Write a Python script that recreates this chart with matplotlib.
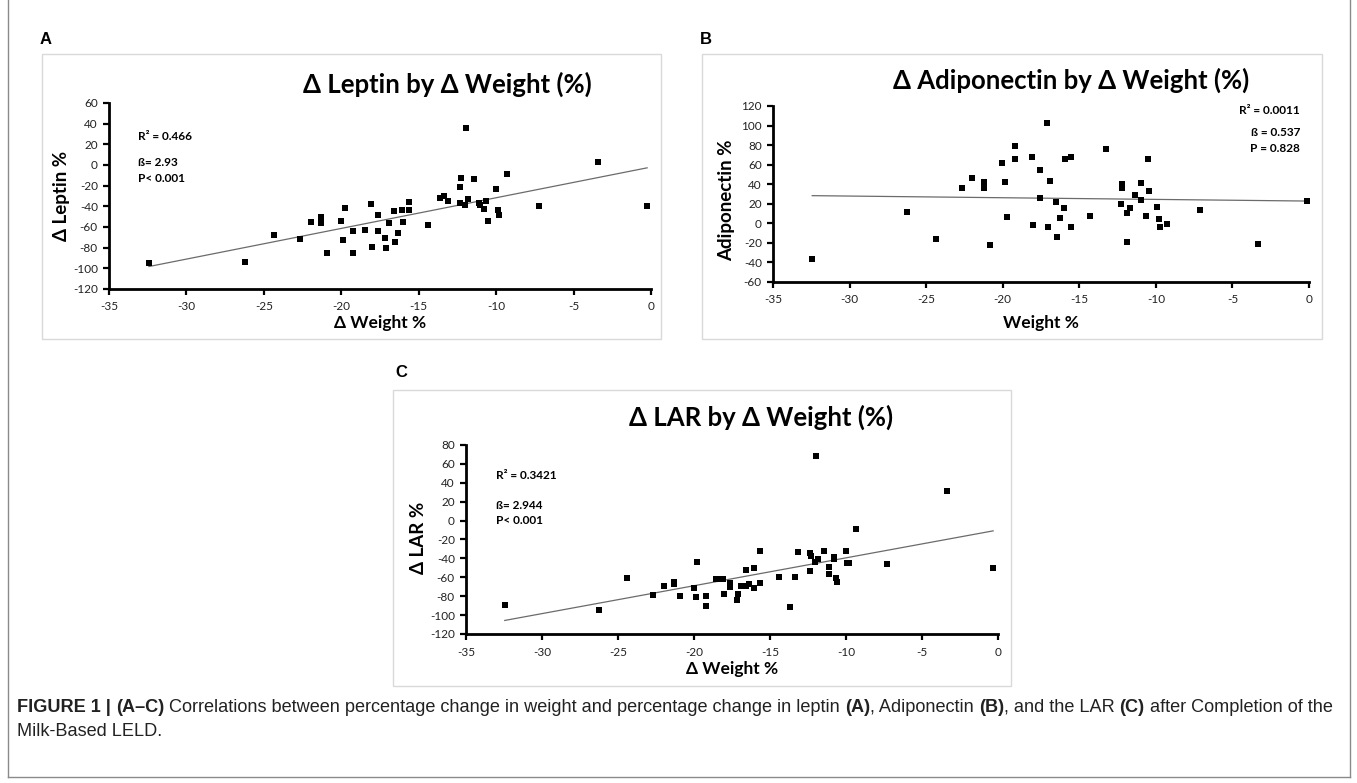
import matplotlib
matplotlib.use("Agg")
import matplotlib.pyplot as plt
import numpy as np
from matplotlib.patches import Rectangle
from matplotlib.lines import Line2D

plt.rcParams["axes.unicode_minus"] = False

# ---------------- data ----------------
weight_a = [-32.42, -26.23, -24.37, -22.67, -21.98, -21.28, -21.28, -20.91, -20.03, -19.77,
            -19.89, -19.22, -19.24, -18.47, -18.10, -18.03, -17.61, -17.64, -17.15, -17.10,
            -16.94, -16.59, -16.50, -16.34, -16.06, -16.01, -15.62, -15.62, -14.43, -13.64,
            -13.34, -13.13, -12.32, -12.25, -12.32, -11.97, -12.02, -11.83, -11.42, -11.11,
            -11.02, -10.77, -10.67, -10.53, -9.98, -9.91, -9.80, -9.33, -7.26, -3.40, -0.25]
leptin = [-94.5, -93.8, -67.8, -71.7, -55.5, -50.0, -56.5, -84.7, -54.2, -41.2,
          -72.4, -63.6, -85.0, -63.3, -37.3, -78.9, -48.4, -64.3, -70.8, -79.9,
          -56.2, -44.1, -74.7, -65.9, -43.8, -54.9, -35.7, -43.2, -57.8, -31.8,
          -29.9, -34.4, -21.7, -13.0, -36.7, 35.7, -38.3, -33.1, -14.0, -36.7,
          -39.0, -42.2, -34.4, -54.5, -23.0, -43.8, -48.0, -9.1, -39.6, 3.0, -40.0]

weight_b = [-32.44, -26.24, -24.38, -22.66, -22.00, -21.24, -21.24, -20.86, -20.02, -19.86,
            -19.74, -19.19, -19.21, -18.09, -17.99, -17.56, -17.56, -17.08, -17.03, -16.89,
            -16.51, -16.46, -16.29, -16.00, -15.93, -15.55, -15.55, -14.33, -13.25, -12.25,
            -12.20, -12.20, -11.91, -11.87, -11.72, -11.34, -10.98, -10.98, -10.67, -10.50,
            -10.43, -9.90, -9.78, -9.71, -9.26, -7.15, -3.30, -0.14]
adiponectin = [-36.3, 11.7, -16.5, 36.0, 46.3, 41.8, 35.7, -22.3, 61.7, 42.5,
               6.2, 79.2, 65.8, 67.5, -1.4, 54.5, 25.7, 102.5, -3.4, 43.5,
               21.6, -13.7, 5.1, 15.4, 65.8, 68.2, -3.8, 7.2, 76.4, 19.9,
               39.8, 35.7, 11.0, -19.2, 15.4, 28.5, 41.5, 24.3, 7.2, 66.2,
               32.6, 16.8, 4.1, -3.4, -0.3, 14.1, -21.3, 23.0]

weight_c = [-32.45, -26.25, -24.38, -22.67, -21.97, -21.29, -21.29, -20.93, -20.03, -19.79,
            -19.90, -19.24, -19.24, -18.52, -18.27, -18.08, -18.03, -17.62, -17.62, -17.14,
            -17.10, -16.93, -16.59, -16.58, -16.38, -16.08, -16.03, -15.64, -15.64, -14.43,
            -13.69, -13.35, -13.13, -12.38, -12.30, -12.34, -12.05, -11.97, -11.81, -11.42,
            -11.09, -11.09, -10.76, -10.76, -10.63, -10.56, -10.01, -9.95, -9.81, -9.37,
            -7.31, -3.35, -0.32]
lar = [-89.7, -94.4, -60.5, -78.4, -68.9, -64.5, -67.5, -79.3, -71.2, -44.3,
       -80.7, -79.3, -90.2, -61.9, -61.9, -61.9, -77.5, -65.7, -70.0, -84.4,
       -78.2, -69.0, -68.9, -52.7, -66.6, -50.4, -71.8, -65.8, -32.0, -60.0,
       -91.0, -59.8, -33.7, -34.4, -37.3, -53.1, -43.9, 68.2, -40.4, -32.0,
       -48.9, -56.9, -38.0, -40.8, -60.5, -65.4, -32.3, -45.3, -45.3, -8.8,
       -45.7, 31.6, -50.6]

x_ticks = [-35, -30, -25, -20, -15, -10, -5, 0]
y_ticks_a = [-120, -100, -80, -60, -40, -20, 0, 20, 40, 60]
y_ticks_b = [-60, -40, -20, 0, 20, 40, 60, 80, 100, 120]
y_ticks_c = [-120, -100, -80, -60, -40, -20, 0, 20, 40, 60, 80]

titles = ["\u0394 Leptin by \u0394 Weight (%)", "\u0394 Adiponectin by \u0394 Weight (%)",
          "\u0394 LAR by \u0394 Weight (%)"]
ylabels = ["\u0394 Leptin %", "Adiponectin %", "\u0394 LAR %"]
xlabels = ["\u0394 Weight %", "Weight %", "\u0394 Weight %"]
stats = [["R\u00b2 = 0.466", "\u00df= 2.93", "P< 0.001"],
         ["R\u00b2 = 0.0011", "\u00df = 0.537", "P = 0.828"],
         ["R\u00b2 = 0.3421", "\u00df= 2.944", "P< 0.001"]]

# ---------------- layout helpers (pixel coords, y down) ----------------
W, H = 1357, 783
fig = plt.figure(figsize=(W / 100, H / 100), dpi=100)
fig.patch.set_facecolor("white")

CH = ["Lato", "Open Sans", "DejaVu Sans"]
CAP = ["Liberation Sans", "DejaVu Sans"]


def ax_at(x0, y0, x1, y1):
    return fig.add_axes([x0 / W, 1 - y1 / H, (x1 - x0) / W, (y1 - y0) / H])


def ftext(x, y, s, **kw):
    return fig.text(x / W, 1 - y / H, s, **kw)


def box(x0, y0, x1, y1, color, lw):
    fig.add_artist(Rectangle((x0 / W, 1 - y1 / H), (x1 - x0) / W, (y1 - y0) / H,
                             transform=fig.transFigure, fill=False,
                             edgecolor=color, linewidth=lw))


def panel(axbox, x, y, ylim, yticks):
    ax = ax_at(*axbox)
    ax.patch.set_alpha(0)
    ax.scatter(x, y, marker="s", s=24, color="black", linewidths=0, zorder=3)
    k, b = np.polyfit(x, y, 1)
    xx = np.array([min(x), max(x)])
    ax.plot(xx, k * xx + b, color="#6b6b6b", lw=0.9, zorder=2)
    ax.set_xlim(-35, 0)
    ax.set_ylim(*ylim)
    ax.set_xticks(x_ticks)
    ax.set_yticks(yticks)
    for s in ["top", "right"]:
        ax.spines[s].set_visible(False)
    for s in ["left", "bottom"]:
        ax.spines[s].set_linewidth(2.0)
    ax.tick_params(axis="x", direction="out", length=4, width=1.6, labelsize=8.5, pad=5,
                   colors="black", labelcolor="#222222")
    ax.tick_params(axis="y", direction="out", length=4, width=1.6, labelsize=8.5, pad=4,
                   colors="black", labelcolor="#222222")
    for lab in ax.get_xticklabels() + ax.get_yticklabels():
        lab.set_family(CH)
    return ax


# outer frame
fig.add_artist(Line2D([8 / W, 8 / W], [1, 1 - 777 / H], transform=fig.transFigure,
                      color="#8a8a8a", lw=1.0))
fig.add_artist(Line2D([1350 / W, 1350 / W], [1, 1 - 777 / H], transform=fig.transFigure,
                      color="#8a8a8a", lw=1.0))
fig.add_artist(Line2D([8 / W, 1350 / W], [1 - 777 / H, 1 - 777 / H],
                      transform=fig.transFigure, color="#8a8a8a", lw=1.0))

# panel boxes
box(42, 54, 661, 339, "#d9d9d9", 1.0)
box(702, 54, 1322, 339, "#d9d9d9", 1.0)
box(393, 390, 1011, 686, "#d9d9d9", 1.0)

# panel letters
ftext(40, 40, "A", fontsize=12, fontweight="bold", family=CAP, va="center", ha="left")
ftext(700, 40, "B", fontsize=12, fontweight="bold", family=CAP, va="center", ha="left")
ftext(395, 373, "C", fontsize=12, fontweight="bold", family=CAP, va="center", ha="left")

TS = 18.5   # title size
LS = 13.5   # y-label size
XS = 12.5   # x-label size
SS = 8.5    # stats size

# ---------- Panel A ----------
panel((109, 103, 651, 289), weight_a, leptin, (-120, 60), y_ticks_a)
ftext(447, 84, titles[0], fontsize=TS, fontweight="bold", family=CH, ha="center", va="center")
ftext(62, 196, ylabels[0], fontsize=LS, fontweight="bold", family=CH, rotation=90,
      ha="center", va="center")
ftext(380, 323, xlabels[0], fontsize=XS, fontweight="bold", family=CH, ha="center", va="center")
ftext(138, 137, stats[0][0], fontsize=SS, fontweight="bold", family=CH, ha="left", va="center")
ftext(138, 162, stats[0][1], fontsize=SS, fontweight="bold", family=CH, ha="left", va="center")
ftext(138, 179, stats[0][2], fontsize=SS, fontweight="bold", family=CH, ha="left", va="center")

# ---------- Panel B ----------
panel((773, 106, 1309, 282), weight_b, adiponectin, (-60, 120), y_ticks_b)
ftext(1071, 80, titles[1], fontsize=TS, fontweight="bold", family=CH, ha="center", va="center")
ftext(727, 200, ylabels[1], fontsize=LS, fontweight="bold", family=CH, rotation=90,
      ha="center", va="center")
ftext(1041, 323, xlabels[1], fontsize=XS, fontweight="bold", family=CH, ha="center", va="center")
ftext(1300, 111, stats[1][0], fontsize=SS, fontweight="bold", family=CH, ha="right", va="center")
ftext(1300, 132, stats[1][1], fontsize=SS, fontweight="bold", family=CH, ha="right", va="center")
ftext(1300, 148, stats[1][2], fontsize=SS, fontweight="bold", family=CH, ha="right", va="center")

# ---------- Panel C ----------
panel((466, 445, 998, 634), weight_c, lar, (-120, 80), y_ticks_c)
ftext(761, 417, titles[2], fontsize=TS, fontweight="bold", family=CH, ha="center", va="center")
ftext(418, 538, ylabels[2], fontsize=LS, fontweight="bold", family=CH, rotation=90,
      ha="center", va="center")
ftext(732, 669, xlabels[2], fontsize=XS, fontweight="bold", family=CH, ha="center", va="center")
ftext(496, 475, stats[2][0], fontsize=SS, fontweight="bold", family=CH, ha="left", va="center")
ftext(496, 505, stats[2][1], fontsize=SS, fontweight="bold", family=CH, ha="left", va="center")
ftext(496, 521, stats[2][2], fontsize=SS, fontweight="bold", family=CH, ha="left", va="center")

# ---------- caption (mixed bold / regular) ----------
line1 = [("FIGURE 1 | ", True), ("(A\u2013C)", True),
         (" Correlations between percentage change in weight and percentage change in leptin ", False),
         ("(A)", True), (", Adiponectin ", False), ("(B)", True), (", and the LAR ", False),
         ("(C)", True), (" after Completion of the", False)]
line2 = [("Milk-Based LELD.", False)]

renderer = fig.canvas.get_renderer()


def run_width(runs, size):
    tot = 0.0
    for txt, bold in runs:
        t = fig.text(0, 0, txt, fontsize=size, fontweight="bold" if bold else "normal",
                     family=CAP)
        tot += t.get_window_extent(renderer=renderer).width
        t.remove()
    return tot


def draw_runs(runs, x, y, size):
    for txt, bold in runs:
        t = ftext(x, y, txt, fontsize=size, fontweight="bold" if bold else "normal",
                  family=CAP, ha="left", va="center", color="#222222")
        bb = t.get_window_extent(renderer=renderer)
        x += bb.width


cap_size = 10.0 * 1322.0 / run_width(line1, 10.0)
draw_runs(line1, 17, 707, cap_size)
draw_runs(line2, 17, 732, cap_size)

fig.savefig("out.png", dpi=100, facecolor="white")
